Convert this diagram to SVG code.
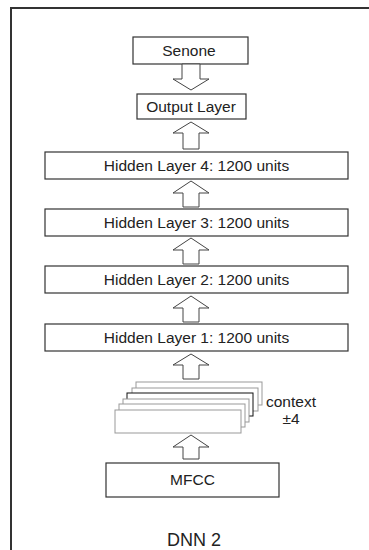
<svg xmlns="http://www.w3.org/2000/svg" width="369" height="550" viewBox="0 0 369 550">
<style>
.box{fill:#fff;stroke:#333;stroke-width:1.2}
.fr{fill:#fff;stroke:#999;stroke-width:1}
.frk{fill:#fff;stroke:#111;stroke-width:1}
.ar{fill:#fff;stroke:#444;stroke-width:1}
text{font-family:"Liberation Sans",Arial,sans-serif;fill:#222;text-anchor:middle}
.t{font-size:15.5px}
</style>
<rect width="369" height="550" fill="#fff"/>
<path d="M11,550 V8 H369" fill="none" stroke="#333" stroke-width="2"/>
<g id="senone"><rect class="box" x="133" y="37" width="115" height="27"/><text class="t" x="189" y="56">Senone</text></g>
<g id="output"><rect class="box" x="137" y="94" width="109" height="25"/><text class="t" x="191" y="112">Output Layer</text></g>
<g id="hl4"><rect class="box" x="45" y="152" width="303" height="27"/><text class="t" x="196.5" y="171">Hidden Layer 4: 1200 units</text></g>
<g id="hl3"><rect class="box" x="45" y="209" width="303" height="27"/><text class="t" x="196.5" y="228">Hidden Layer 3: 1200 units</text></g>
<g id="hl2"><rect class="box" x="45" y="266" width="303" height="27"/><text class="t" x="196.5" y="285">Hidden Layer 2: 1200 units</text></g>
<g id="hl1"><rect class="box" x="45" y="324" width="303" height="27"/><text class="t" x="196.5" y="343">Hidden Layer 1: 1200 units</text></g>
<g id="context">
<rect class="fr" x="136" y="382" width="126" height="23"/>
<rect class="fr" x="132" y="388" width="126" height="23"/>
<rect class="frk" x="127" y="393" width="126" height="23"/>
<rect class="fr" x="123" y="399" width="126" height="23"/>
<rect class="fr" x="119" y="404" width="126" height="23"/>
<rect class="fr" x="115" y="410" width="126" height="23"/>
<text class="t" x="291" y="407">context</text>
<text class="t" x="291" y="424">±4</text>
</g>
<g id="mfcc"><rect class="box" x="106" y="463" width="173" height="34"/><text class="t" x="192.5" y="485">MFCC</text></g>
<text x="194" y="546" style="font-size:18px">DNN 2</text>
<g id="connectors">
<path class="ar" d="M182,64 H200 V79 H209 L191,90 L173,79 H182 Z"/>
<path class="ar" d="M191,122 L209,133 H199 V149 H183 V133 H173 Z"/>
<path class="ar" d="M191,181 L209,193 H199 V207 H183 V193 H173 Z"/>
<path class="ar" d="M191,238 L209,250 H199 V264 H183 V250 H173 Z"/>
<path class="ar" d="M191,296 L209,308 H199 V322 H183 V308 H173 Z"/>
<path class="ar" d="M191,354 L209,365 H199 V379 H183 V365 H173 Z"/>
<path class="ar" d="M191,435 L209,447 H199 V459 H183 V447 H173 Z"/>
</g>
</svg>
